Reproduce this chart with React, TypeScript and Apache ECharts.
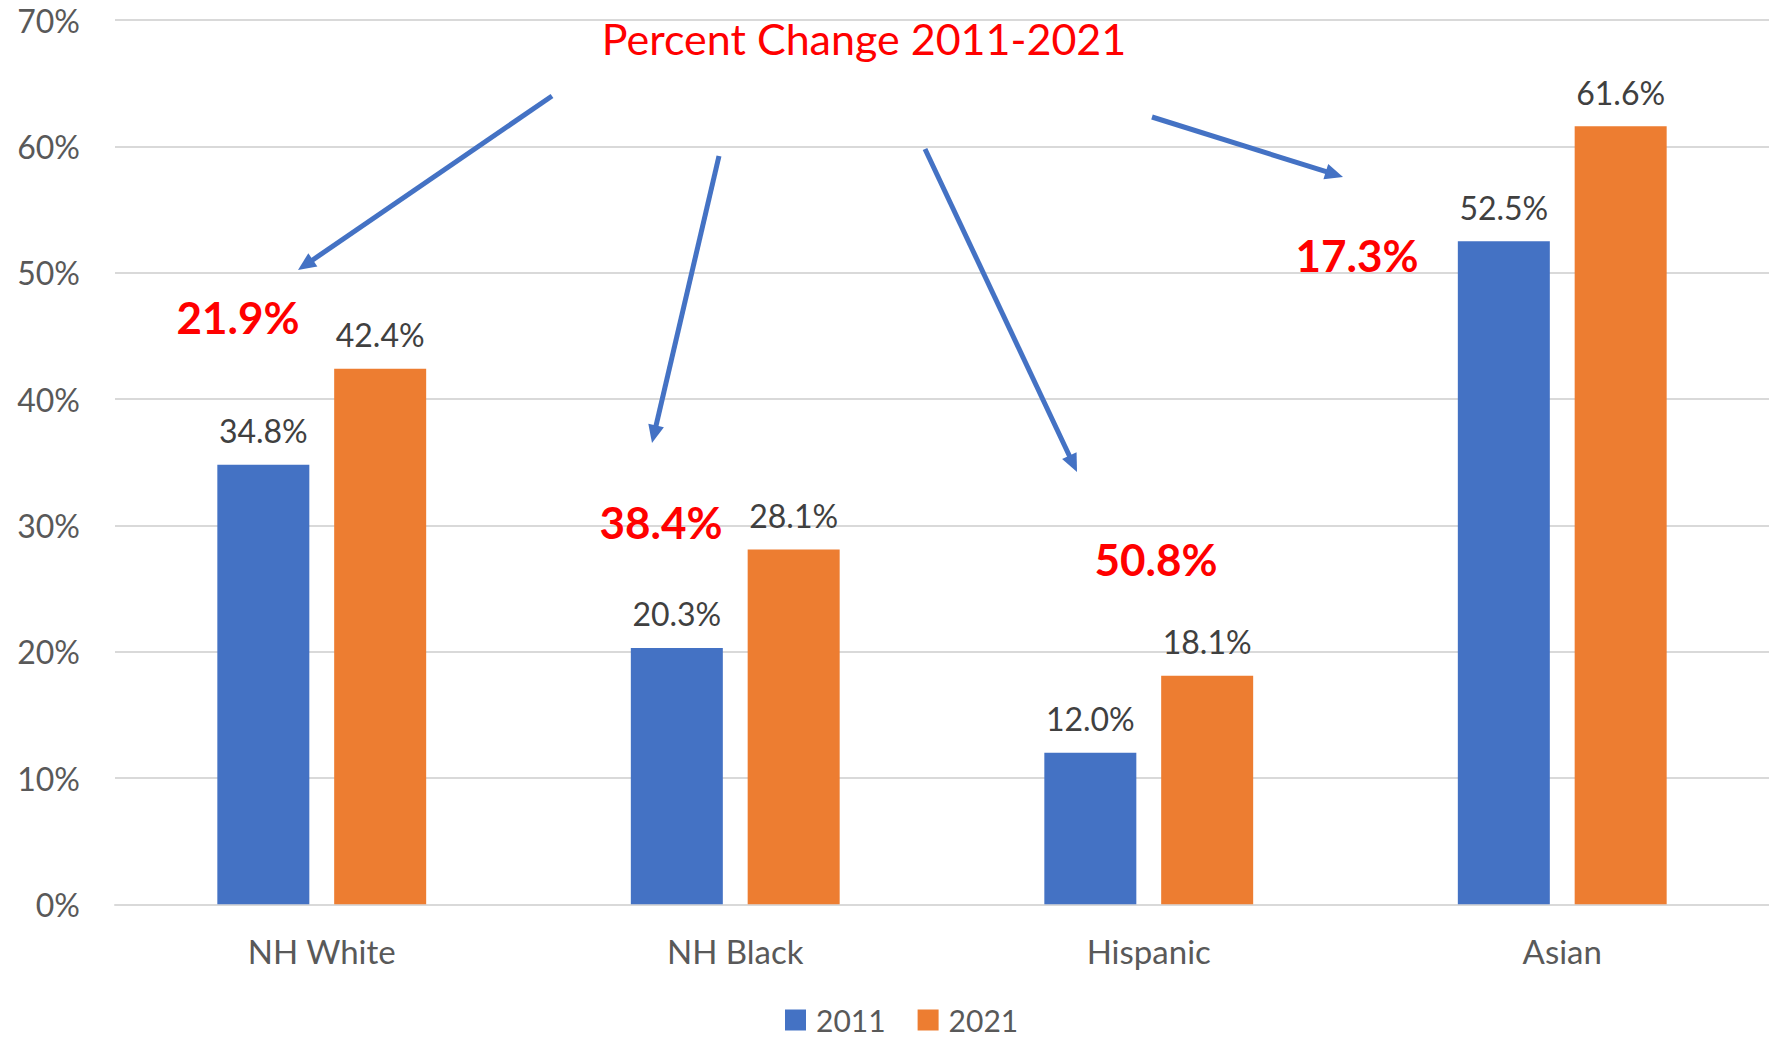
import React, { useEffect, useRef } from "react";
import * as echarts from "echarts";

const categories = ["NH White", "NH Black", "Hispanic", "Asian"];
const values2011 = [34.8, 20.3, 12.0, 52.5];
const values2021 = [42.4, 28.1, 18.1, 61.6];
const seriesNames = ["2011", "2021"];
const pctChangeLabels = ["21.9%", "38.4%", "50.8%", "17.3%"];
const titleText = "Percent Change 2011-2021";

// annotation layout (pixels)
const pctLabelPos = [
  [238, 317],
  [661, 522],
  [1156, 559],
  [1357, 255],
];
const arrowPos = [
  [552, 96, 298, 270],
  [719, 156, 652, 443],
  [925, 149, 1077, 472],
  [1152, 117, 1343, 177],
];

const FONT = "Lato, 'Noto Sans', sans-serif";
const BLUE = "#4472C4";
const ORANGE = "#ED7D31";

function makeArrow(sx: number, sy: number, tx: number, ty: number) {
  const dx = tx - sx;
  const dy = ty - sy;
  const len = Math.sqrt(dx * dx + dy * dy);
  const ux = dx / len;
  const uy = dy / len;
  const headLen = 18;
  const halfW = 8;
  const bx = tx - ux * headLen;
  const by = ty - uy * headLen;
  const nx = -uy;
  const ny = ux;
  return [
    {
      type: "line",
      shape: { x1: sx, y1: sy, x2: bx + ux * 2, y2: by + uy * 2 },
      style: { stroke: BLUE, lineWidth: 5 },
      z: 100,
    },
    {
      type: "polygon",
      shape: {
        points: [
          [tx, ty],
          [bx + nx * halfW, by + ny * halfW],
          [bx - nx * halfW, by - ny * halfW],
        ],
      },
      style: { fill: BLUE },
      z: 100,
    },
  ];
}

export default function App() {
  const ref = useRef<HTMLDivElement>(null);
  useEffect(() => {
    document.body.style.margin = "0";
    const chart = echarts.init(ref.current!, undefined, { renderer: "svg" });
    const graphics: any[] = [];
    graphics.push({
      type: "text",
      x: 864,
      y: 38,
      style: {
        text: titleText,
        fill: "#FF0000",
        font: `43px ${FONT}`,
        textAlign: "center",
        textVerticalAlign: "middle",
      },
      z: 100,
    });
    pctChangeLabels.forEach((t, i) => {
      graphics.push({
        type: "text",
        x: pctLabelPos[i][0],
        y: pctLabelPos[i][1],
        style: {
          text: t,
          fill: "#FF0000",
          font: `bold 44px ${FONT}`,
          textAlign: "center",
          textVerticalAlign: "middle",
        },
        z: 100,
      });
    });
    arrowPos.forEach((a) => {
      graphics.push(...makeArrow(a[0], a[1], a[2], a[3]));
    });

    const labelCfg = {
      show: true,
      position: "top",
      distance: 18,
      color: "#404040",
      fontFamily: FONT,
      fontSize: 32,
      formatter: (p: any) => Number(p.value).toFixed(1) + "%",
    };

    chart.setOption({
      animation: false,
      backgroundColor: "#ffffff",
      textStyle: { fontFamily: FONT },
      grid: { left: 115, right: 0, top: 20.2, bottom: 132.7, containLabel: false },
      legend: {
        data: seriesNames,
        left: 785,
        top: 1005,
        padding: 0,
        itemWidth: 21,
        itemHeight: 21,
        itemGap: 32,
        icon: "rect",
        textStyle: { color: "#595959", fontSize: 30, fontFamily: FONT, padding: [0, 0, 0, 5], lineHeight: 24 },
      },
      xAxis: {
        type: "category",
        data: categories,
        axisLine: { show: true, lineStyle: { color: "#D9D9D9", width: 2 } },
        axisTick: { show: false },
        axisLabel: { color: "#595959", fontSize: 33, fontFamily: FONT, margin: 30 },
        splitLine: { show: false },
      },
      yAxis: {
        type: "value",
        min: 0,
        max: 70,
        interval: 10,
        axisLine: { show: false },
        axisTick: { show: false },
        axisLabel: {
          color: "#595959",
          fontSize: 32,
          fontFamily: FONT,
          margin: 35,
          formatter: (v: number) => v + "%",
        },
        splitLine: { lineStyle: { color: "#D9D9D9", width: 2 } },
      },
      series: [
        {
          name: seriesNames[0],
          type: "bar",
          data: values2011,
          barWidth: 92,
          barGap: "27%",
          itemStyle: { color: BLUE },
          label: labelCfg,
        },
        {
          name: seriesNames[1],
          type: "bar",
          data: values2021,
          barWidth: 92,
          barGap: "27%",
          itemStyle: { color: ORANGE },
          label: labelCfg,
        },
      ],
      graphic: graphics,
    });
    return () => chart.dispose();
  }, []);
  return (
    <div
      ref={ref}
      style={{ position: "fixed", left: 0, top: 0, width: 1769, height: 1037, background: "#fff" }}
    />
  );
}
